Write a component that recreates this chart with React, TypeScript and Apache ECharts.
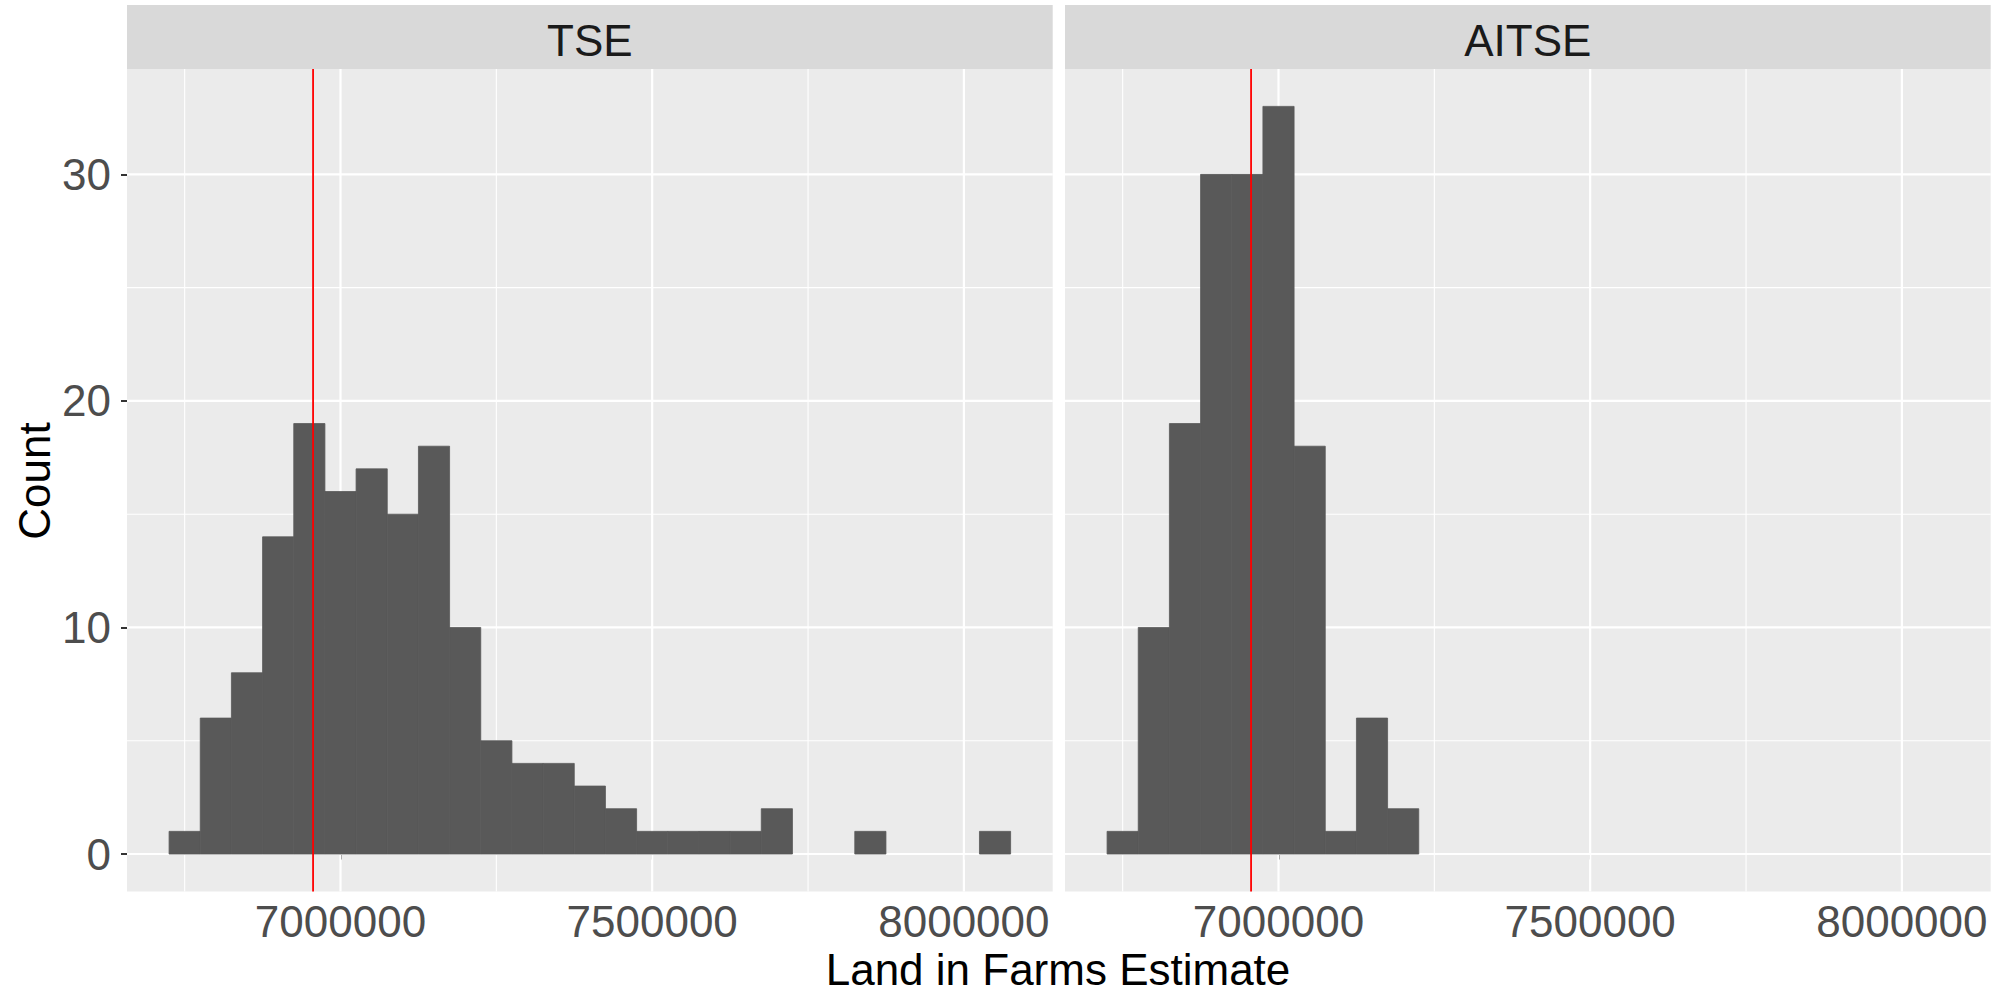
import React, { useEffect, useRef } from "react";
import * as echarts from "echarts";

// ---- data ----
const panelNames = ["TSE", "AITSE"];
const binWidth = 50000;
const binStarts = [
  6725000, 6775000, 6825000, 6875000, 6925000, 6975000, 7025000, 7075000, 7125000,
  7175000, 7225000, 7275000, 7325000, 7375000, 7425000, 7475000, 7525000, 7575000,
  7625000, 7675000, 7725000, 7775000, 7825000, 7875000, 7925000, 7975000, 8025000,
];
const tseCounts = [1, 6, 8, 14, 19, 16, 17, 15, 18, 10, 5, 4, 4, 3, 2, 1, 1, 1, 1, 2, 0, 0, 1, 0, 0, 0, 1];
const aitseCounts = [1, 10, 19, 30, 30, 33, 18, 1, 6, 2, 0, 0, 0, 0, 0, 0, 0, 0, 0, 0, 0, 0, 0, 0, 0, 0, 0];
const referenceValue = 6956000;

const xMajorTicks = [7000000, 7500000, 8000000];
const xMajorLabels = ["7000000", "7500000", "8000000"];
const xMinorTicks = [6750000, 7250000, 7750000];
const yMajorTicks = [0, 10, 20, 30];
const yMajorLabels = ["0", "10", "20", "30"];
const yMinorTicks = [5, 15, 25];

const xMin = 6657500;
const xMax = 8142500;
const yMin = -1.65;
const yMax = 34.65;

const FONT = "'Liberation Sans', Arial, sans-serif";

export default function App() {
  const ref = useRef<HTMLDivElement>(null);
  useEffect(() => {
    document.body.style.margin = "0";
    const chart = echarts.init(ref.current as HTMLDivElement, null, {
      renderer: "svg",
      width: 2005,
      height: 993,
    });

    const panelLefts = [127, 1065];
    const panelWidth = 925.7;
    const panelTop = 69;
    const panelHeight = 822.4;
    const countsList = [tseCounts, aitseCounts];

    const grids: any[] = [];
    const xAxes: any[] = [];
    const yAxes: any[] = [];
    const series: any[] = [];
    const graphics: any[] = [];

    panelNames.forEach((name, i) => {
      grids.push({
        left: panelLefts[i],
        top: panelTop,
        width: panelWidth,
        height: panelHeight,
        show: true,
        backgroundColor: "#ebebeb",
        borderWidth: 0,
      });
      xAxes.push({
        type: "value",
        gridIndex: i,
        min: xMin,
        max: xMax,
        axisLine: { show: false },
        axisTick: {
          show: true,
          customValues: xMajorTicks,
          length: 5.5,
          lineStyle: { color: "#333333", width: 2 },
        },
        axisLabel: {
          show: true,
          customValues: xMajorTicks,
          formatter: (v: number) => xMajorLabels[xMajorTicks.indexOf(v)] ?? String(v),
          fontSize: 44,
          color: "#4d4d4d",
          fontFamily: FONT,
          margin: 8,
        },
        splitLine: { show: false },
      });
      yAxes.push({
        type: "value",
        gridIndex: i,
        min: yMin,
        max: yMax,
        axisLine: { show: false },
        axisTick: {
          show: i === 0,
          customValues: yMajorTicks,
          length: 6,
          lineStyle: { color: "#333333", width: 2 },
        },
        axisLabel: {
          show: i === 0,
          customValues: yMajorTicks,
          formatter: (v: number) => yMajorLabels[yMajorTicks.indexOf(v)] ?? String(v),
          fontSize: 44,
          color: "#4d4d4d",
          fontFamily: FONT,
          margin: 16,
        },
        splitLine: { show: false },
      });

      // vertical grid lines
      const vData = [
        ...xMinorTicks.map((v) => [v, 0, 1.1]),
        ...xMajorTicks.map((v) => [v, 0, 2.2]),
      ];
      series.push({
        type: "custom",
        xAxisIndex: i,
        yAxisIndex: i,
        z: 1,
        silent: true,
        data: vData,
        renderItem: (params: any, api: any) => {
          const x = api.value(0);
          const w = api.value(2);
          const p1 = api.coord([x, yMin]);
          const p2 = api.coord([x, yMax]);
          return {
            type: "line",
            shape: { x1: p1[0], y1: p1[1], x2: p2[0], y2: p2[1] },
            style: { stroke: "#ffffff", lineWidth: w },
          };
        },
      });
      // horizontal grid lines
      const hData = [
        ...yMinorTicks.map((v) => [xMin, v, 1.1]),
        ...yMajorTicks.map((v) => [xMin, v, 2.2]),
      ];
      series.push({
        type: "custom",
        xAxisIndex: i,
        yAxisIndex: i,
        z: 1,
        silent: true,
        data: hData,
        renderItem: (params: any, api: any) => {
          const y = api.value(1);
          const w = api.value(2);
          const p1 = api.coord([xMin, y]);
          const p2 = api.coord([xMax, y]);
          return {
            type: "line",
            shape: { x1: p1[0], y1: p1[1], x2: p2[0], y2: p2[1] },
            style: { stroke: "#ffffff", lineWidth: w },
          };
        },
      });
      // histogram bars
      const counts = countsList[i];
      const barData = binStarts.map((s, k) => [s, s + binWidth, counts[k]]);
      series.push({
        type: "custom",
        xAxisIndex: i,
        yAxisIndex: i,
        z: 2,
        silent: true,
        encode: { x: [0, 1], y: 2 },
        data: barData,
        renderItem: (params: any, api: any) => {
          const c = api.value(2);
          if (!c) return null;
          const p0 = api.coord([api.value(0), 0]);
          const p1 = api.coord([api.value(1), c]);
          return {
            type: "rect",
            shape: { x: p0[0], y: p1[1], width: p1[0] - p0[0], height: p0[1] - p1[1] },
            style: { fill: "#595959", stroke: "#595959", lineWidth: 0.8 },
          };
        },
      });
      // reference line
      series.push({
        type: "custom",
        xAxisIndex: i,
        yAxisIndex: i,
        z: 3,
        silent: true,
        data: [[referenceValue, 0]],
        renderItem: (params: any, api: any) => {
          const x = api.value(0);
          const p1 = api.coord([x, yMin]);
          const p2 = api.coord([x, yMax]);
          return {
            type: "line",
            shape: { x1: p1[0], y1: p1[1], x2: p2[0], y2: p2[1] },
            style: { stroke: "#ff0000", lineWidth: 1.8 },
          };
        },
      });

      // facet strip
      graphics.push({
        type: "rect",
        shape: { x: panelLefts[i], y: 5, width: panelWidth, height: 64 },
        style: { fill: "#d9d9d9" },
        z: 0,
      });
      graphics.push({
        type: "text",
        x: panelLefts[i] + panelWidth / 2,
        y: 40,
        style: {
          text: name,
          fontSize: 44,
          fontFamily: FONT,
          fill: "#1a1a1a",
          align: "center",
          verticalAlign: "middle",
        },
        z: 1,
      });
    });

    graphics.push({
      type: "text",
      x: 1058,
      y: 969,
      style: {
        text: "Land in Farms Estimate",
        fontSize: 44,
        fontFamily: FONT,
        fill: "#000000",
        align: "center",
        verticalAlign: "middle",
      },
    });
    graphics.push({
      type: "text",
      x: 34,
      y: 481,
      rotation: Math.PI / 2,
      style: {
        text: "Count",
        fontSize: 44,
        fontFamily: FONT,
        fill: "#000000",
        align: "center",
        verticalAlign: "middle",
      },
    });

    chart.setOption({
      animation: false,
      backgroundColor: "#ffffff",
      grid: grids,
      xAxis: xAxes,
      yAxis: yAxes,
      series,
      graphic: graphics,
    });
    return () => chart.dispose();
  }, []);
  return <div ref={ref} style={{ width: 2005, height: 993 }} />;
}
